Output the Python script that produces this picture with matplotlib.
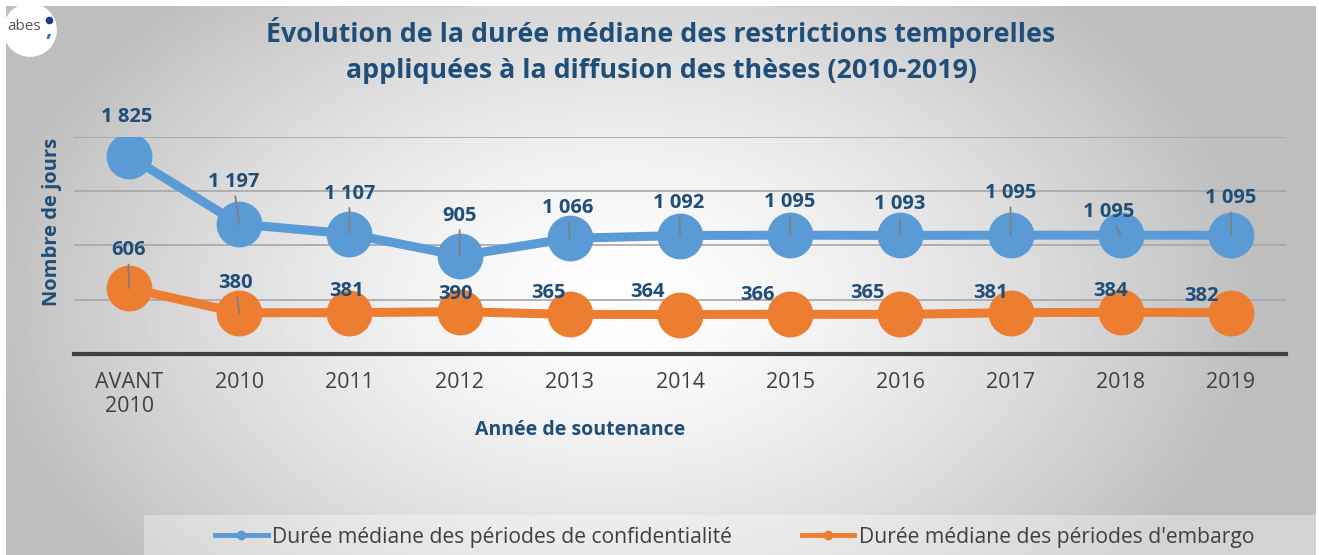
import numpy as np
import matplotlib
matplotlib.use("Agg")
from matplotlib import pyplot as plt
from matplotlib.lines import Line2D
from matplotlib.patches import Rectangle, Circle

plt.rcParams['font.family'] = ['Open Sans', 'DejaVu Sans']

# data
categories = ["AVANT\n2010", "2010", "2011", "2012", "2013", "2014",
              "2015", "2016", "2017", "2018", "2019"]
confidentialite = [1825, 1197, 1107, 905, 1066, 1092, 1095, 1093, 1095, 1095, 1095]
embargo = [606, 380, 381, 390, 365, 364, 366, 365, 381, 384, 382]

title = "Évolution de la durée médiane des restrictions temporelles\nappliquées à la diffusion des thèses (2010-2019)"
label_conf = "Durée médiane des périodes de confidentialité"
label_emb = "Durée médiane des périodes d'embargo"

# label placement (pixel offsets from the point) and leader line flags
conf_offsets = [(-2, 39), (-6, 42), (0, 40), (0, 40), (-2, 30), (-1, 33),
                (0, 33), (-1, 31), (0, 42), (-12, 23), (0, 37)]
conf_leader = [False, True, True, True, True, True, True, True, True, True, True]
emb_offsets = [(-1, 38), (-4, 30), (-3, 22), (-4, 18), (-21, 21), (-33, 23),
               (-33, 19), (-33, 21), (-20, 20), (-10, 21), (-29, 17)]
emb_leader = [True, True, False, False, False, False, False, False, False, False, False]

BLUE = "#5b9bd5"
ORANGE = "#ed7d31"
NAVY = "#1f4e79"
TXT = "#404040"

W, H = 1319, 555
fig = plt.figure(figsize=(W / 100, H / 100), dpi=100)
fig.patch.set_facecolor("white")

# radial grey background
bg = fig.add_axes([6 / W, 0, 1310 / W, 549 / H], zorder=-10)
yy, xx = np.mgrid[0:549, 0:1310]
d = np.sqrt(((xx + 6 - 620) / 660.0) ** 2 + ((yy + 6 - 300) / 430.0) ** 2)
val = np.clip(255 - 68 * d ** 1.4, 190, 255) / 255.0
bg.imshow(val, cmap="gray", vmin=0, vmax=1, aspect="auto", interpolation="bilinear")
bg.axis("off")

# legend band
fig.patches.append(Rectangle((144 / W, 0), (1316 - 144) / W, 40 / H,
                             transform=fig.transFigure, facecolor="white",
                             alpha=0.35, edgecolor="none", zorder=-5))

ax = fig.add_axes([74 / W, 201 / H, (1286 - 74) / W, 217 / H])
ax.set_facecolor("none")
x = np.arange(len(categories))

ax.plot(x, confidentialite, color=BLUE, lw=6.5, marker="o", ms=32,
        solid_capstyle="round", zorder=3)
ax.plot(x, embargo, color=ORANGE, lw=6.5, marker="o", ms=32,
        solid_capstyle="round", zorder=3)

for series, offsets, leaders in ((confidentialite, conf_offsets, conf_leader),
                                 (embargo, emb_offsets, emb_leader)):
    for xi, v, off, lead in zip(x, series, offsets, leaders):
        txt = "{:,}".format(v).replace(",", " ")
        arrow = dict(arrowstyle="-", color="#7f7f7f", lw=1.3,
                     shrinkA=1, shrinkB=0) if lead else None
        ax.annotate(txt, xy=(xi, v), xytext=off, textcoords="offset pixels",
                    ha="center", va="center", fontsize=14.5, fontweight="bold",
                    color=NAVY, arrowprops=arrow, zorder=5)

ax.set_xlim(-0.5, len(categories) - 0.5)
ax.set_ylim(0, 2000)
ax.set_yticks([500, 1000, 1500, 2000])
ax.set_yticklabels([])
ax.tick_params(axis="y", length=0)
ax.grid(axis="y", color="#a6a6a6", lw=1.2)
ax.set_axisbelow(True)
ax.set_xticks(x)
ax.set_xticklabels(categories, fontsize=15.5, color=TXT, linespacing=1.2)
ax.tick_params(axis="x", length=0, pad=13)
for s in ("top", "right", "left"):
    ax.spines[s].set_visible(False)
ax.spines["bottom"].set_color("#404040")
ax.spines["bottom"].set_linewidth(3)

fig.text(661 / W, 1 - 51 / H, title, ha="center", va="center", fontsize=19.3,
         fontweight="bold", color=NAVY, linespacing=1.5)
fig.text(52 / W, 1 - 222 / H, "Nombre de jours", rotation=90, ha="center",
         va="center", fontsize=14.5, fontweight="bold", color=NAVY)
fig.text(580 / W, 1 - 430 / H, "Année de soutenance", ha="center", va="center",
         fontsize=14, fontweight="bold", color=NAVY)

handles = [Line2D([], [], color=BLUE, lw=3.5, marker="o", ms=6),
           Line2D([], [], color=ORANGE, lw=3.5, marker="o", ms=6)]
fig.legend(handles, [label_conf, label_emb], loc="center left",
           bbox_to_anchor=(215 / W, 18 / H), ncol=2, frameon=False,
           fontsize=15.2, labelcolor=TXT, handlelength=2.5, handletextpad=0.2,
           columnspacing=3.3, borderpad=0, borderaxespad=0)

# logo
logo = fig.add_axes([2 / W, 1 - 58 / H, 56 / W, 56 / H])
logo.set_xlim(0, 1)
logo.set_ylim(0, 1)
logo.axis("off")
logo.add_patch(Circle((0.5, 0.5), 0.48, facecolor="white", edgecolor="none"))
logo.text(0.4, 0.56, "abes", ha="center", va="center", fontsize=11, color="#555555")
logo.plot([0.84], [0.68], "o", color="#1a3a8f", ms=4.5)
logo.text(0.84, 0.4, ",", ha="center", va="baseline", fontsize=16,
          fontweight="bold", color="#2f6fd0")

fig.savefig("out.png", dpi=100)
